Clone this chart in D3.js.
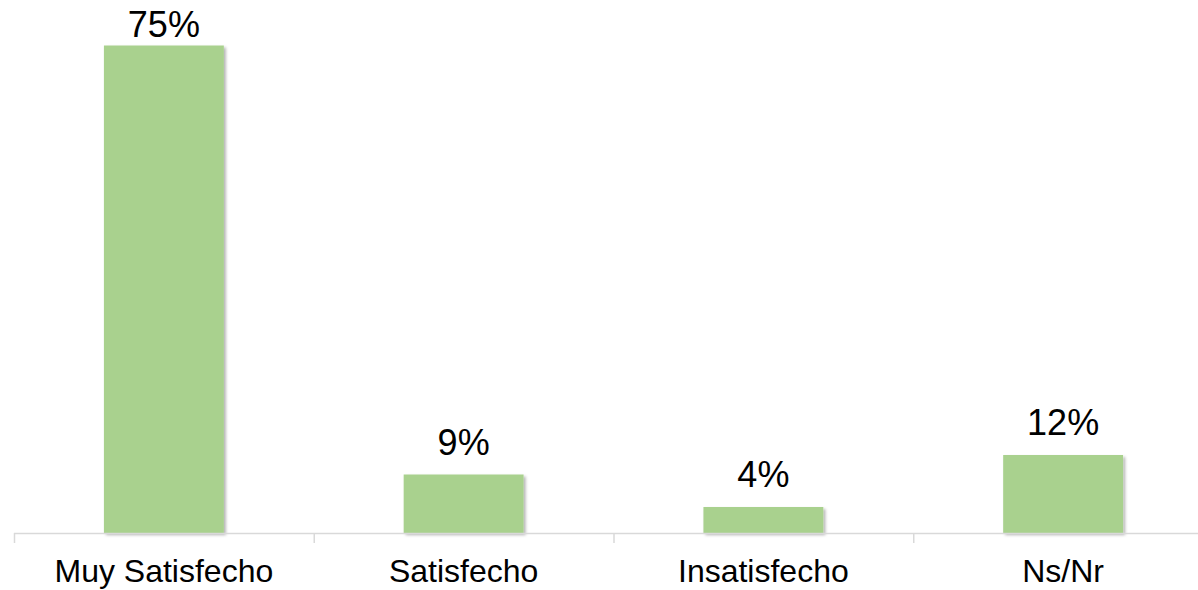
<!DOCTYPE html>
<html><head><meta charset="utf-8">
<script src="https://cdn.jsdelivr.net/npm/d3@7"></script>
<style>html,body{margin:0;padding:0;background:#fff;}svg{display:block;}</style>
</head><body>
<svg id="chart" width="1198" height="590"></svg>
<script>
const categories = ["Muy Satisfecho", "Satisfecho", "Insatisfecho", "Ns/Nr"];
const values = [75, 9, 4, 12];
const valueLabels = ["75%", "9%", "4%", "12%"];

const svg = d3.select("#chart");
const x = d3.scaleBand().domain(categories).range([14, 1213]).paddingInner(0).paddingOuter(0);
const y = d3.scaleLinear().domain([0, 80]).range([533, 13]);

const defs = svg.append("defs");
const f = defs.append("filter").attr("id","sh").attr("x","-10%").attr("y","-10%").attr("width","130%").attr("height","130%");
f.append("feDropShadow").attr("dx",2).attr("dy",2).attr("stdDeviation",1.5).attr("flood-color","#000").attr("flood-opacity",0.3);

const bw = x.bandwidth() * 0.4;
svg.selectAll("rect.bar").data(values).enter().append("rect")
  .attr("class","bar")
  .attr("x",(d,i)=>x(categories[i]) + (x.bandwidth()-bw)/2)
  .attr("y",d=>y(d))
  .attr("width",bw)
  .attr("height",d=>y(0)-y(d))
  .attr("fill","#A9D18E")
  .attr("filter","url(#sh)");

// axis line
svg.append("line").attr("x1",14).attr("x2",1198).attr("y1",y(0)+0.5).attr("y2",y(0)+0.5)
  .attr("stroke","#d9d9d9").attr("stroke-width",1.5);
const tickPos = categories.map(c=>x(c));
svg.selectAll("line.tick").data(tickPos).enter().append("line")
  .attr("class","tick")
  .attr("x1",d=>d+0.5).attr("x2",d=>d+0.5)
  .attr("y1",y(0)).attr("y2",y(0)+10)
  .attr("stroke","#d9d9d9").attr("stroke-width",1.5);

svg.selectAll("text.cat").data(categories).enter().append("text")
  .attr("class","cat")
  .attr("x",d=>x(d)+x.bandwidth()/2)
  .attr("y",582)
  .attr("text-anchor","middle")
  .attr("font-family","Liberation Sans, Arial, sans-serif")
  .attr("font-size",32)
  .attr("fill","#000")
  .text(d=>d);

svg.selectAll("text.val").data(values).enter().append("text")
  .attr("class","val")
  .attr("x",(d,i)=>x(categories[i])+x.bandwidth()/2)
  .attr("y",d=>Math.max(y(d)-20, 37))
  .attr("text-anchor","middle")
  .attr("font-family","Liberation Sans, Arial, sans-serif")
  .attr("font-size",36)
  .attr("fill","#000")
  .text((d,i)=>valueLabels[i]);
</script>
</body></html>
